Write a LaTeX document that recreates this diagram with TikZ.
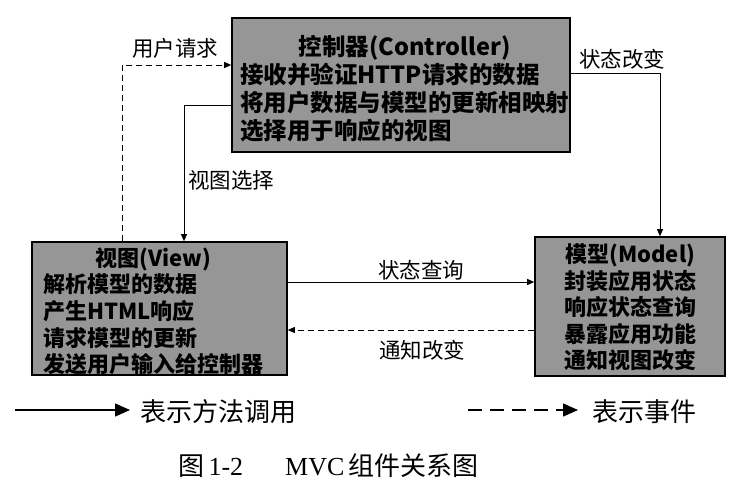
\documentclass[tikz,border=0pt]{standalone}
\usepackage{fontspec}
\setmainfont{Noto Sans CJK SC}
\newfontfamily\serifl{Liberation Serif}
\usetikzlibrary{arrows.meta}
\definecolor{boxgray}{RGB}{150,150,150}
\tikzset{
  box/.style={draw=black, line width=1.6pt, fill=boxgray, inner sep=0pt},
  btext/.style={inner sep=0pt, anchor=west},
  lbl/.style={font=\fontsize{21.5}{24}\selectfont, inner sep=0pt},
  conn/.style={line width=1pt, -{Triangle[length=7pt,width=6pt]}},
  evt/.style={conn, dash pattern=on 6pt off 4pt},
  legsolid/.style={line width=1.4pt, -{Triangle[length=15pt,width=13pt]}},
  legdash/.style={legsolid, dash pattern=on 14pt off 8pt},
  legtext/.style={font=\fontsize{26}{28}\selectfont, inner sep=0pt, anchor=west}
}
\begin{document}
\begin{tikzpicture}[x=1pt,y=-1pt]
\path[use as bounding box, fill=white] (0,0) rectangle (750,496);

% boxes
\node[box, minimum width=338pt, minimum height=134pt] (ctrl) at (401,85) {};
\node[box, minimum width=255pt, minimum height=133pt] (view) at (159.5,308.5) {};
\node[box, minimum width=190pt, minimum height=139pt] (model) at (630,306.5) {};

% box texts
\node[btext] (ctrltxt) at (240,91) {\fontsize{23.5}{25.5}\selectfont\bfseries
  \begin{tabular}{@{}l@{}}
  \multicolumn{1}{@{}c@{}}{控制器(Controller)}\\
  接收并验证HTTP请求的数据\\
  将用户数据与模型的更新相映射\\
  选择用于响应的视图
  \end{tabular}};
\node[btext] (viewtxt) at (43,314) {\fontsize{22}{25.8}\selectfont\bfseries
  \begin{tabular}{@{}l@{}}
  \multicolumn{1}{@{}c@{}}{视图(View)}\\
  解析模型的数据\\
  产生HTML响应\\
  请求模型的更新\\
  发送用户输入给控制器
  \end{tabular}};
\node[btext] (modeltxt) at (564,310) {\fontsize{22}{24.7}\selectfont\bfseries
  \begin{tabular}{@{}l@{}}
  \multicolumn{1}{@{}c@{}}{模型(Model)}\\
  封装应用状态\\
  响应状态查询\\
  暴露应用功能\\
  通知视图改变
  \end{tabular}};

% bend points
\coordinate (reqb) at (122,65);
\coordinate (selb) at (184,105);
\coordinate (chgb) at (660,73);
\coordinate (qy) at (0,282);
\coordinate (ny) at (0,330);

% connectors
\draw[evt] (view.north -| reqb) -- (reqb) -- (ctrl.west |- reqb);
\draw[conn] (ctrl.west |- selb) -- (selb) -- (view.north -| selb);
\draw[conn] (ctrl.east |- chgb) -- (chgb) -- (model.north -| chgb);
\draw[conn] (view.east |- qy) -- (model.west |- qy);
\draw[evt] (model.west |- ny) -- (view.east |- ny);

% connector labels
\node[lbl] (lreq) at (175,48) {用户请求};
\node[lbl] (lsel) at (231,180) {视图选择};
\node[lbl] (lchg) at (622,59) {状态改变};
\node[lbl] (lqry) at (421,270) {状态查询};
\node[lbl] (lnot) at (422,350) {通知改变};

% legend
\coordinate (l1s) at (15,410);
\coordinate (l1e) at (130,410);
\draw[legsolid] (l1s) -- (l1e);
\node[legtext] (l1t) at (140,412) {表示方法调用};
\coordinate (l2s) at (468,410);
\coordinate (l2e) at (578,410);
\draw[legdash] (l2s) -- (l2e);
\node[legtext] (l2t) at (592,412) {表示事件};

% caption
\node[legtext] (cap) at (178,466) {图\,{\serifl 1-2}\hspace{42pt}{\serifl MVC}\hspace{4pt}组件关系图};
\end{tikzpicture}
\end{document}
